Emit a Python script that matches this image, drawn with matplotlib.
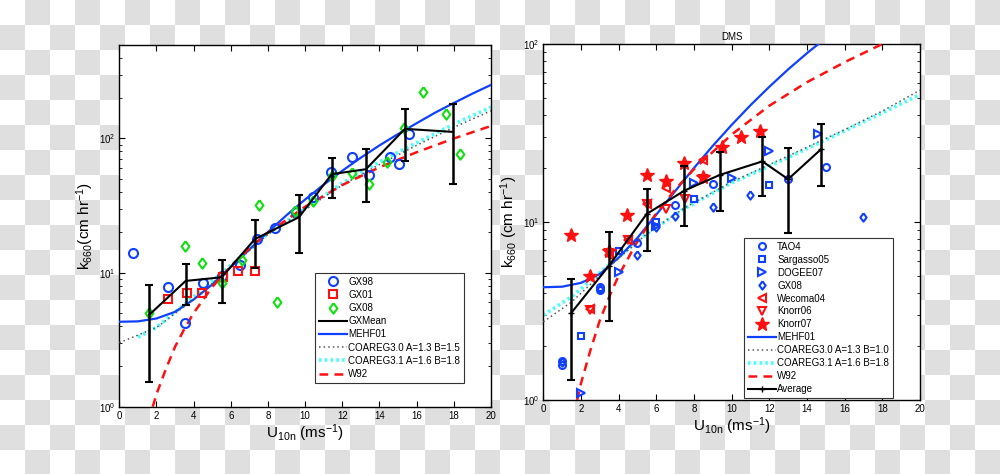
import numpy as np
import matplotlib
matplotlib.use("Agg")
import matplotlib.pyplot as plt

plt.rcParams['font.family'] = ['Liberation Sans', 'DejaVu Sans']
plt.rcParams['mathtext.fontset'] = 'custom'
plt.rcParams['mathtext.rm'] = 'Liberation Sans'
plt.rcParams['mathtext.it'] = 'Liberation Sans'
plt.rcParams['axes.linewidth'] = 1.0

BLUE = '#1040ff'
RED = '#ff1010'
GREEN = '#10e010'
# matlab style diamond (wider than matplotlib 'd')
DIAMOND = [(0, 1), (0.75, 0), (0, -1), (-0.75, 0), (0, 1)]

# ---------------- left panel data (GX) ----------------
gx98_u = [0.72, 2.64, 3.53, 4.5, 5.51, 6.5, 7.42, 8.4, 9.53, 10.44, 11.41, 12.54, 13.42, 14.57, 15.05, 15.61]
gx98_k = [14.1, 7.8, 4.2, 8.3, 9.5, 11.4, 17.9, 21.5, 28.1, 36.5, 56.4, 73, 53.6, 73, 65, 108]

gx01_u = [2.64, 3.62, 4.47, 5.6, 6.39, 7.32]
gx01_k = [6.4, 7.1, 7.0, 9.3, 10.2, 10.2]

gx08_u = [1.6, 3.52, 4.47, 5.51, 6.62, 7.5, 8.5, 9.46, 10.44, 11.43, 12.54, 13.42, 14.42, 15.32, 16.33, 17.58, 18.34]
gx08_k = [5.0, 15.9, 11.7, 8.4, 12.4, 32.2, 6.0, 28.7, 34, 52.3, 55.5, 45.4, 66.5, 120, 222, 151, 76]

gxmean_u = [1.6, 3.57, 5.51, 7.3, 9.67, 11.43, 13.27, 15.37, 17.94]
gxmean_k = [4.83, 8.67, 9.23, 17.8, 25.9, 54.2, 59, 118, 112]
gxmean_hi = [8.04, 11.6, 12.4, 24.6, 38, 71.7, 83.7, 166, 180]
gxmean_lo = [1.52, 5.7, 5.97, 10.8, 13.9, 36.3, 33.7, 68.1, 45.6]

# ---------------- right panel data (DMS) ----------------
tao4_u = [1, 1, 3, 3, 5, 7, 9, 13, 15]
tao4_k = [1.58, 1.66, 4.15, 4.3, 7.6, 12.5, 16.3, 17.4, 20.5]

sarg05_u = [2, 4, 6, 8, 12]
sarg05_k = [2.29, 6.9, 10.0, 13.5, 16.1]

dogee07_u = [2, 4, 6, 8, 10, 12, 14.6]
dogee07_k = [1.1, 5.26, 9.5, 16.6, 17.7, 25.2, 31.2]

gx08d_u = [1, 3, 5, 6, 7, 9, 11, 17]
gx08d_k = [1.63, 4.2, 6.5, 9.4, 10.8, 12.1, 14.2, 10.7]

wec04_u = [2.5, 3.5, 4.5, 5.5, 6.5, 8.5]
wec04_k = [3.25, 6.5, 7.9, 12.7, 15.5, 22.3]

knorr06_u = [2.5, 3.5, 4.5, 5.5, 6.5, 7.5, 8.5]
knorr06_k = [3.2, 6.7, 7.9, 12.7, 11.9, 13.4, 17.4]

knorr07_u = [1.47, 2.48, 3.49, 4.46, 5.49, 6.5, 7.49, 8.5, 9.47, 10.48, 11.5]
knorr07_k = [8.5, 5.0, 6.9, 11.0, 18.4, 17.1, 21.4, 18.0, 26.5, 30.2, 32.6]

avg_u = [1.47, 3.49, 5.49, 7.49, 9.38, 11.63, 13.0, 14.74]
avg_k = [3.07, 5.69, 11.1, 15.0, 18.4, 21.9, 17.4, 25.6]
avg_hi = [4.8, 8.75, 15.3, 20.7, 24.7, 29.9, 26.2, 35.7]
avg_lo = [1.29, 2.78, 6.9, 9.53, 11.5, 14.0, 8.63, 15.9]

# ---------------- parameterisation curves ----------------
mehf_u = [0, 1, 2, 3, 4, 5, 6, 7, 8, 9, 10, 11, 12, 13, 14, 15, 16, 17, 18, 19, 20]
mehf_k = [4.3, 4.33, 4.55, 5.1, 6.3, 8.15, 11.0, 14.9, 20.1, 26.8, 35.1, 45.3, 57.5, 72, 88.8, 108, 130, 156, 184, 216, 251]

w92_u = [1.8, 2, 2.5, 3, 3.5, 4, 5, 6, 7, 8, 10, 12, 14, 16, 18, 20]
w92_k = [1.0, 1.24, 1.9, 2.8, 3.8, 5.0, 7.8, 11.2, 15.2, 19.8, 31, 45, 61, 79, 100, 124]

coare30_u = [0, 2, 4, 6, 8, 10, 12, 14, 16, 18, 20]
coare30_k = [3.0, 3.9, 6.3, 11.0, 19.3, 29.5, 45, 64, 89, 121, 161]
coare31_u = [1, 2, 4, 6, 8, 10, 12, 14, 16, 18, 20]
coare31_k = [3.3, 3.9, 6.6, 11.3, 19.6, 30, 46.5, 67, 93, 128, 171]

coare30d_u = [0, 1.5, 3.5, 5.5, 7.5, 10, 12, 14, 16, 18, 20]
coare30d_k = [2.75, 3.55, 5.6, 8.6, 12.0, 16.8, 21, 26.3, 33, 42, 55]
coare31d_u = [0, 1.5, 3.5, 5.5, 7.5, 10, 12, 14, 16, 18, 20]
coare31d_k = [3.0, 3.8, 5.75, 8.6, 11.9, 16.6, 20.6, 25.8, 32.5, 41, 52]


def Setup_axe(ax, ylim, ylabel):
    '''matlab-like axes: ticks inside on all sides'''
    ax.set_yscale('log')
    ax.set_xlim(0, 20)
    ax.set_ylim(*ylim)
    ax.set_xticks(range(0, 21, 2))
    ax.tick_params(which='both', direction='in', top=True, right=True, labelsize=7, pad=3)
    ax.tick_params(which='major', length=4, width=0.8)
    ax.tick_params(which='minor', length=2, width=0.6)
    ax.set_xlabel(r'U$_{\rm 10n}$ (ms$^{-1}$)', fontsize=11, labelpad=1)
    ax.set_ylabel(ylabel, fontsize=11, labelpad=2)
    ax.yaxis.set_minor_formatter(matplotlib.ticker.NullFormatter())


def Mean_errorbar(ax, u, k, lo, hi, label, marker):
    k = np.array(k)
    yerr = [k - np.array(lo), np.array(hi) - k]
    ax.errorbar(u, k, yerr=yerr, fmt='none', ecolor='k', elinewidth=1.8, capsize=3, capthick=1.5, zorder=5)
    ax.plot(u, k, color='k', lw=1.5, marker=marker, ms=4, mew=1, label=label, zorder=6)


def Box_legend(ax, anchor, spacing):
    lg = ax.legend(loc='lower right', bbox_to_anchor=anchor, fontsize=7, frameon=True, fancybox=False,
                   edgecolor='#333333', framealpha=1, borderpad=0.4, labelspacing=spacing, handlelength=2.9,
                   handletextpad=0.1, borderaxespad=0)
    lg.get_frame().set_linewidth(0.8)
    return lg


fig = plt.figure(figsize=(10, 4.74), dpi=100)

# transparent-style checker background
H, W, S = 474, 1000, 25
yy, xx = np.mgrid[0:H, 0:W]
chk = ((yy // S + xx // S) % 2).astype(float)
bg = np.where(chk[..., None] > 0, 0.878, 1.0) * np.ones((H, W, 3))
fig.figimage(bg, xo=0, yo=0, origin='upper', zorder=-10)

ax1 = fig.add_axes([0.1193, 0.1419, 0.3717, 0.7637])
ax2 = fig.add_axes([0.5433, 0.1561, 0.3767, 0.7511])

# ---- left: GX ----
ax1.plot(gx98_u, gx98_k, 'o', ls='none', mfc='none', mec=BLUE, mew=1.5, ms=6.5, label='GX98', zorder=4)
ax1.plot(gx01_u, gx01_k, 's', ls='none', mfc='none', mec=RED, mew=1.5, ms=5.5, label='GX01', zorder=4)
ax1.plot(gx08_u, gx08_k, marker=DIAMOND, ls='none', mfc='none', mec=GREEN, mew=1.5, ms=7.5, label='GX08', zorder=4)
Mean_errorbar(ax1, gxmean_u, gxmean_k, gxmean_lo, gxmean_hi, 'GXMean', None)
ax1.plot(mehf_u, mehf_k, color=BLUE, lw=1.6, label='MEHF01', zorder=3)
ax1.plot(coare30_u, coare30_k, color='#555555', ls=(0, (1, 2)), lw=1.1, label='COAREG3.0 A=1.3 B=1.5', zorder=3)
ax1.plot(coare31_u, coare31_k, color='#40ffff', ls=(0, (0.7, 0.9)), lw=2.6, label='COAREG3.1 A=1.6 B=1.8', zorder=2)
ax1.plot(w92_u, w92_k, color=RED, ls=(0, (3.5, 2.5)), lw=1.8, label='W92', zorder=3)
Setup_axe(ax1, (1, 500), r'k$_{660}$(cm hr$^{-1}$)')
Box_legend(ax1, (0.927, 0.066), 0.33)

# ---- right: DMS ----
ax2.plot(tao4_u, tao4_k, 'o', ls='none', mfc='none', mec=BLUE, mew=1.5, ms=5, label='TAO4', zorder=4)
ax2.plot(sarg05_u, sarg05_k, 's', ls='none', mfc='none', mec=BLUE, mew=1.5, ms=4.5, label='Sargasso05', zorder=4)
ax2.plot(dogee07_u, dogee07_k, '>', ls='none', mfc='none', mec=BLUE, mew=1.5, ms=5.5, label='DOGEE07', zorder=4)
ax2.plot(gx08d_u, gx08d_k, marker=DIAMOND, ls='none', mfc='none', mec=BLUE, mew=1.5, ms=6, label='GX08', zorder=4)
ax2.plot(wec04_u, wec04_k, '<', ls='none', mfc='none', mec=RED, mew=1.5, ms=5.5, label='Wecoma04', zorder=4)
ax2.plot(knorr06_u, knorr06_k, 'v', ls='none', mfc='none', mec=RED, mew=1.5, ms=5.5, label='Knorr06', zorder=4)
ax2.plot(knorr07_u, knorr07_k, '*', ls='none', color=RED, ms=10, label='Knorr07', zorder=4)
ax2.plot(mehf_u, mehf_k, color=BLUE, lw=1.6, label='MEHF01', zorder=3)
ax2.plot(coare30d_u, coare30d_k, color='#555555', ls=(0, (1, 2)), lw=1.1, label='COAREG3.0 A=1.3 B=1.0', zorder=3)
ax2.plot(coare31d_u, coare31d_k, color='#40ffff', ls=(0, (0.7, 0.9)), lw=2.6, label='COAREG3.1 A=1.6 B=1.8', zorder=2)
ax2.plot(w92_u, w92_k, color=RED, ls=(0, (3.5, 2.5)), lw=1.8, label='W92', zorder=3)
Mean_errorbar(ax2, avg_u, avg_k, avg_lo, avg_hi, 'Average', '+')
Setup_axe(ax2, (1, 100), r'k$_{660}$ (cm hr$^{-1}$)')
ax2.set_title('DMS', fontsize=7, pad=3)
Box_legend(ax2, (0.928, 0.006), 0.3)

fig.savefig('out.png', dpi=100)
